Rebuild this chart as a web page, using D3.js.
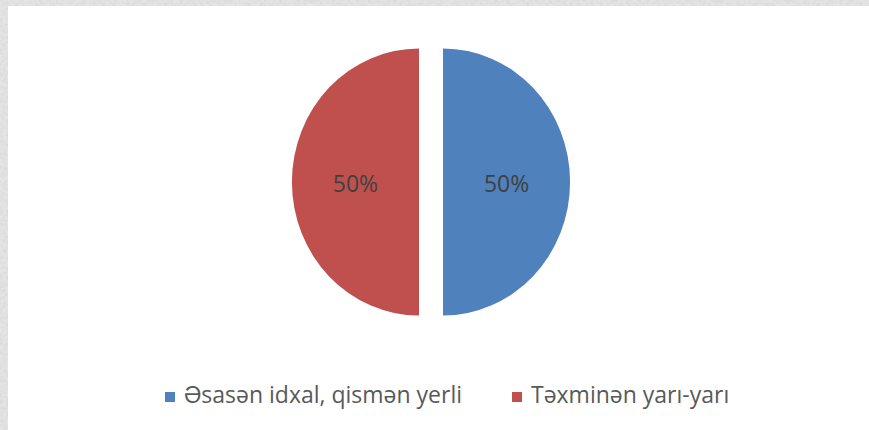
<!DOCTYPE html>
<html>
<head>
<meta charset="utf-8">
<script src="https://cdn.jsdelivr.net/npm/d3@7"></script>
<style>
  body { margin: 0; }
  svg { display: block; }
</style>
</head>
<body>
<div id="chart"></div>
<script>
let categories = ['Əsasən idxal, qismən yerli', 'Təxminən yarı-yarı'];
let values = [50, 50];
let colors = ['#4F81BD', '#C0504D'];

let chart_width = 869;
let chart_height = 430;

let svg = d3.select('#chart')
    .append('svg')
    .attr('width', chart_width)
    .attr('height', chart_height);

// textured grey frame
let defs = svg.append('defs');
let noise = defs.append('filter').attr('id', 'grain')
    .attr('x', 0).attr('y', 0).attr('width', '100%').attr('height', '100%');
noise.append('feTurbulence')
    .attr('type', 'fractalNoise')
    .attr('baseFrequency', 0.3)
    .attr('numOctaves', 3)
    .attr('seed', 3);
noise.append('feColorMatrix')
    .attr('type', 'matrix')
    .attr('values', '0 0 0 0 0.7  0 0 0 0 0.7  0 0 0 0 0.7  0 0 0 -2 1.3');

svg.append('rect')
    .attr('width', chart_width).attr('height', chart_height)
    .attr('fill', '#e4e4e4');
svg.append('rect')
    .attr('width', chart_width).attr('height', chart_height)
    .attr('filter', 'url(#grain)');
svg.append('rect')
    .attr('x', 8).attr('y', 6)
    .attr('width', chart_width - 8).attr('height', chart_height - 6)
    .attr('fill', '#fff');

// pie
let cx = 431, cy = 182;
let radius = 133.5;
let sx = 0.952;
let explode = 12;

let pie = d3.pie().sort(null).value(function(d) { return d; });
let arcs = pie(values);
let arc = d3.arc().innerRadius(0).outerRadius(radius);

let pie_g = svg.append('g')
    .attr('transform', 'translate(' + cx + ',' + cy + ')');

pie_g.selectAll('path')
    .data(arcs)
    .enter()
    .append('path')
    .attr('d', arc)
    .attr('fill', function(d, i) { return colors[i]; })
    .attr('transform', function(d) {
        let a = (d.startAngle + d.endAngle) / 2;
        let dx = Math.sin(a) * explode;
        let dy = -Math.cos(a) * explode;
        return 'translate(' + dx + ',' + dy + ') scale(' + sx + ',1)';
    });

pie_g.selectAll('text')
    .data(arcs)
    .enter()
    .append('text')
    .text(function(d) { return d.data + '%'; })
    .attr('x', function(d) {
        let a = (d.startAngle + d.endAngle) / 2;
        return arc.centroid(d)[0] * sx + Math.sin(a) * explode;
    })
    .attr('y', function(d) {
        let a = (d.startAngle + d.endAngle) / 2;
        return arc.centroid(d)[1] - Math.cos(a) * explode;
    })
    .attr('dy', '0.45em')
    .attr('text-anchor', 'middle')
    .attr('font-family', 'Open Sans, sans-serif')
    .attr('font-size', 23)
    .attr('fill', '#404040');

// legend
let legend_x = [165, 512];
let legend = svg.selectAll('.legend')
    .data(categories)
    .enter()
    .append('g')
    .attr('class', 'legend')
    .attr('transform', function(d, i) { return 'translate(' + legend_x[i] + ',392)'; });

legend.append('rect')
    .attr('width', 10).attr('height', 10)
    .attr('fill', function(d, i) { return colors[i]; });

legend.append('text')
    .text(function(d) { return d; })
    .attr('x', 19)
    .attr('y', 11)
    .attr('font-family', 'Open Sans, sans-serif')
    .attr('font-size', 23)
    .attr('fill', '#595959');
</script>
</body>
</html>
